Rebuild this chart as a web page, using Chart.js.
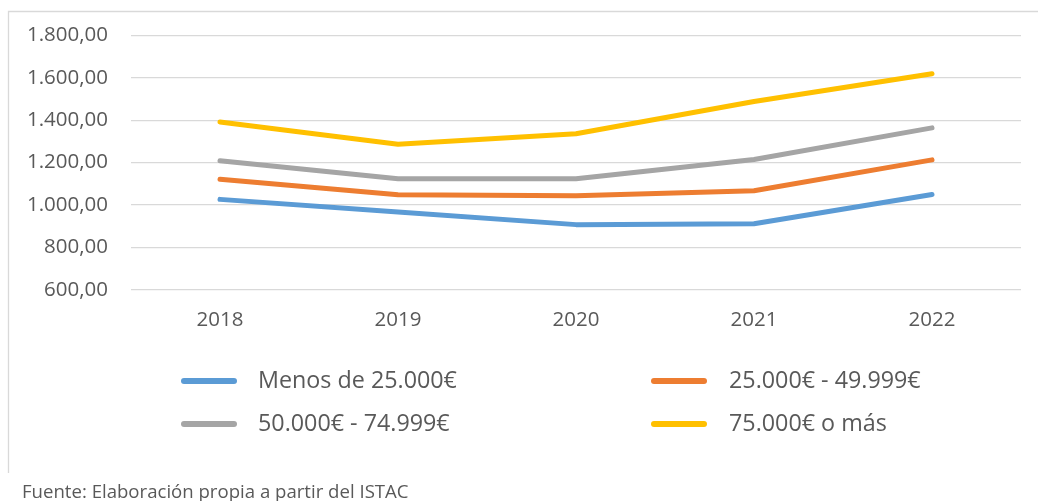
<!DOCTYPE html>
<html><head><meta charset="utf-8">
<script src="https://cdn.jsdelivr.net/npm/chart.js@4"></script>
<style>html,body{margin:0;padding:0;background:#fff;overflow:hidden}#wrap{position:absolute;left:0;top:0;width:1038px;height:501px}</style>
</head><body><div id="wrap"><canvas id="c" width="1038" height="501"></canvas></div>
<script>
// ---- data ----
const categories = ['2018', '2019', '2020', '2021', '2022'];
const seriesNames = ['Menos de 25.000€', '25.000€ - 49.999€', '50.000€ - 74.999€', '75.000€ o más'];
const menos25 = [1027, 967, 908, 912, 1050];
const de25a50 = [1122, 1049, 1044, 1068, 1213];
const de50a75 = [1209, 1124, 1124, 1215, 1364];
const mas75 = [1392, 1287, 1336, 1488, 1619];
const yMin = 600, yMax = 1800, yStep = 200;
const sourceNote = 'Fuente: Elaboración propia a partir del ISTAC';

// ---- styles ----
const colors = ['#5B9BD5', '#ED7D31', '#A5A5A5', '#FFC000'];
const FONT = "'Open Sans', 'Noto Sans', sans-serif";
const TEXT = '#595959';
const GRID = '#D9D9D9';

function fmt(v) {
  const parts = Number(v).toFixed(2).split('.');
  return parts[0].replace(/\B(?=(\d{3})+(?!\d))/g, '.') + ',' + parts[1];
}

const seriesValues = [menos25, de25a50, de50a75, mas75];
const datasets = seriesValues.map((vals, i) => ({
  label: seriesNames[i],
  data: vals,
  borderColor: colors[i],
  backgroundColor: colors[i],
  borderWidth: 5,
  borderCapStyle: 'round',
  borderJoinStyle: 'round',
  pointRadius: 0,
  pointHoverRadius: 0,
  tension: 0,
  fill: false
}));

const decor = {
  id: 'decor',
  beforeDraw(chart) {
    const ctx = chart.ctx;
    ctx.save();
    ctx.strokeStyle = GRID;
    ctx.lineWidth = 1.3;
    ctx.beginPath();
    ctx.moveTo(8.5, 473);
    ctx.lineTo(8.5, 11.5);
    ctx.lineTo(1040, 11.5);
    ctx.stroke();
    ctx.restore();
  },
  afterDraw(chart) {
    const ctx = chart.ctx;
    ctx.save();
    // legend (2 x 2 grid)
    const colLine = [181, 651];
    const colText = [258, 729];
    const rowY = [381, 424];
    chart.data.datasets.forEach((ds, i) => {
      const c = i % 2, r = Math.floor(i / 2);
      ctx.strokeStyle = ds.borderColor;
      ctx.lineWidth = 6;
      ctx.lineCap = 'round';
      ctx.beginPath();
      ctx.moveTo(colLine[c] + 3, rowY[r]);
      ctx.lineTo(colLine[c] + 53, rowY[r]);
      ctx.stroke();
      ctx.fillStyle = TEXT;
      ctx.font = "23.3px " + FONT;
      ctx.textBaseline = 'middle';
      ctx.textAlign = 'left';
      ctx.fillText(ds.label, colText[c], rowY[r]);
    });
    // source note
    ctx.fillStyle = TEXT;
    ctx.font = "18.6px " + FONT;
    ctx.textBaseline = 'alphabetic';
    ctx.fillText(sourceNote, 22, 498);
    ctx.restore();
  }
};

new Chart(document.getElementById('c'), {
  type: 'line',
  data: { labels: categories, datasets },
  options: {
    responsive: false,
    animation: false,
    devicePixelRatio: 1,
    layout: { padding: { left: 0, right: 17, top: 35, bottom: 0 } },
    plugins: { legend: { display: false }, tooltip: { enabled: false } },
    scales: {
      x: {
        offset: true,
        grid: { display: false, drawTicks: false },
        border: { display: false },
        ticks: { color: TEXT, font: { family: FONT, size: 20.5 }, padding: 18, maxRotation: 0 },
        afterFit(s) { s.height = 211; }
      },
      y: {
        min: yMin, max: yMax,
        grid: { color: GRID, lineWidth: 1.3, drawTicks: false },
        border: { display: false },
        ticks: { stepSize: yStep, color: TEXT, font: { family: FONT, size: 20.5 }, padding: 23, callback: v => fmt(v) },
        afterFit(s) { s.width = 131; }
      }
    }
  },
  plugins: [decor]
});
</script>
</body></html>
